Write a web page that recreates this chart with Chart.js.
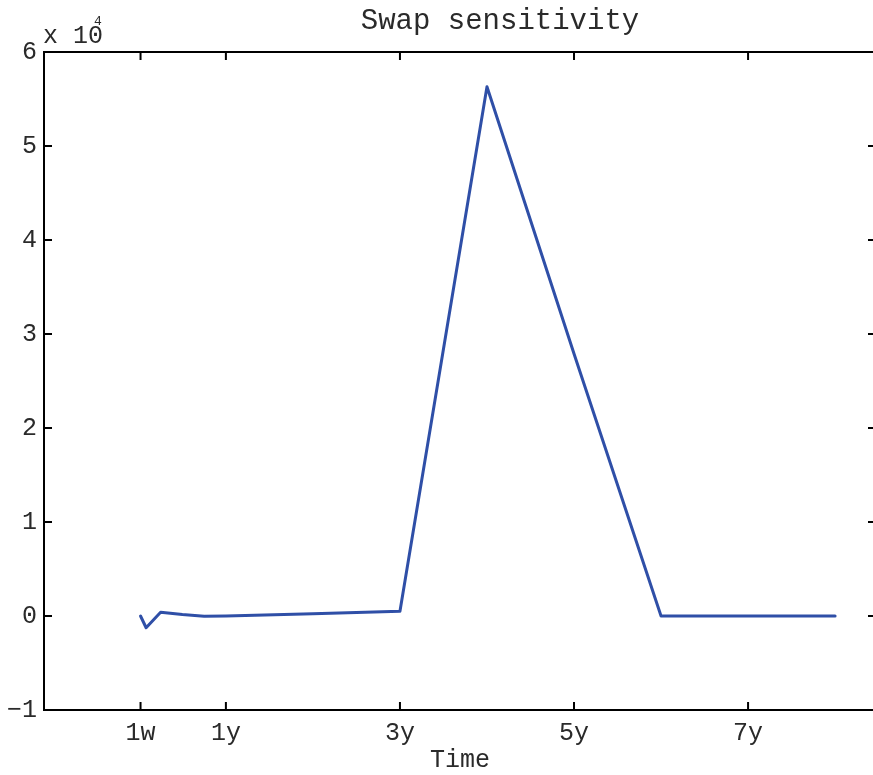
<!DOCTYPE html>
<html>
<head>
<meta charset="utf-8">
<script src="https://cdn.jsdelivr.net/npm/chart.js@4"></script>
<style>
  html, body { margin: 0; padding: 0; background: #fff; overflow: hidden; }
  #wrap { width: 882px; height: 775px; }
</style>
</head>
<body>
<div id="wrap"><canvas id="myChart" width="882" height="775"></canvas></div>
<script>
  // maturities in years, sensitivity in raw units (axis shows x 10^4)
  const maturities = [1/52, 1/12, 0.25, 0.5, 0.75, 1, 2, 3, 4, 5, 6, 7, 8];
  const sensitivity = [0, -1250, 400, 150, -30, 0, 250, 500, 56300, 27900, 0, 0, 0];

  const xTickValues = [1/52, 1, 3, 5, 7];
  const xTickLabels = ['1w', '1y', '3y', '5y', '7y'];
  const yScaleFactor = 1e4;

  const monoFont = '"Liberation Mono", "DejaVu Sans Mono", monospace';
  const textColor = '#2a2a2a';

  // box + inward ticks like matlab, title and the x 10^4 label
  const matlabBox = {
    id: 'matlabBox',
    afterDraw(chart) {
      const { ctx, chartArea: a, scales: { x, y } } = chart;
      const len = 8;
      ctx.save();
      ctx.strokeStyle = '#000';
      ctx.lineWidth = 2;
      ctx.strokeRect(a.left, a.top, a.right - a.left, a.bottom - a.top);
      ctx.beginPath();
      x.ticks.forEach(t => {
        const px = x.getPixelForValue(t.value);
        ctx.moveTo(px, a.bottom); ctx.lineTo(px, a.bottom - len);
        ctx.moveTo(px, a.top); ctx.lineTo(px, a.top + len);
      });
      y.ticks.forEach(t => {
        const py = y.getPixelForValue(t.value);
        ctx.moveTo(a.left, py); ctx.lineTo(a.left + len, py);
        ctx.moveTo(a.right, py); ctx.lineTo(a.right - len, py);
      });
      ctx.stroke();

      ctx.fillStyle = textColor;
      ctx.textBaseline = 'alphabetic';
      ctx.textAlign = 'center';
      ctx.font = '29px ' + monoFont;
      ctx.fillText('Swap sensitivity', 500, 29);

      ctx.textAlign = 'left';
      ctx.font = '25px ' + monoFont;
      ctx.fillText('x 10', 43, 43);
      ctx.font = '13px ' + monoFont;
      ctx.fillText('4', 94, 25);
      ctx.restore();
    }
  };

  const ctx = document.getElementById('myChart');

  new Chart(ctx, {
    type: 'line',
    data: {
      datasets: [{
        data: maturities.map((m, i) => ({ x: m, y: sensitivity[i] })),
        borderColor: '#2f4fa7',
        borderWidth: 3,
        borderJoinStyle: 'round',
        borderCapStyle: 'round',
        pointRadius: 0,
        tension: 0,
        fill: false
      }]
    },
    options: {
      responsive: false,
      animation: false,
      layout: { padding: { top: 52, right: 6, left: 0, bottom: 0 } },
      plugins: {
        legend: { display: false },
        tooltip: { enabled: false }
      },
      scales: {
        x: {
          type: 'linear',
          min: -1.09,
          max: 8.47,
          grid: { display: false, drawTicks: false },
          border: { display: false },
          afterBuildTicks: scale => { scale.ticks = xTickValues.map(v => ({ value: v })); },
          afterFit: scale => { scale.height = 65; },
          ticks: {
            autoSkip: false,
            maxRotation: 0,
            padding: 8,
            color: textColor,
            font: { family: monoFont, size: 25 },
            callback: (v, i) => xTickLabels[i]
          },
          title: {
            display: true,
            text: 'Time',
            color: textColor,
            padding: { top: 0, bottom: 0 },
            font: { family: monoFont, size: 25, lineHeight: 1.2 }
          }
        },
        y: {
          min: -1e4,
          max: 6e4,
          grid: { display: false, drawTicks: false },
          border: { display: false },
          afterFit: scale => { scale.width = 44; },
          ticks: {
            stepSize: 1e4,
            padding: 7,
            color: textColor,
            font: { family: monoFont, size: 25 },
            callback: v => String(v / yScaleFactor).replace('-', '\u2212')
          }
        }
      }
    },
    plugins: [matlabBox]
  });
</script>
</body>
</html>
